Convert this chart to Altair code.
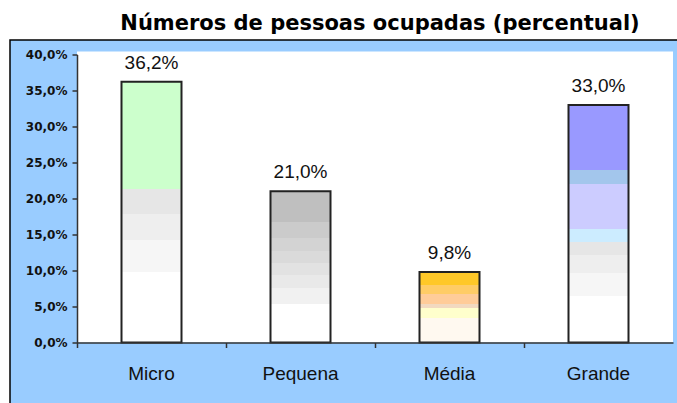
import altair as alt
import pandas as pd

categories = ["Micro", "Pequena", "Média", "Grande"]
values = [36.2, 21.0, 9.8, 33.0]
y_ticks = [0, 5, 10, 15, 20, 25, 30, 35, 40]
title_text = "Números de pessoas ocupadas (percentual)"

# banded "gradient" fills (style), offsets from bar top (0) to bottom (1)
bands = {
    "Micro": [(0.41, "#CCFFCC"), (0.506, "#E6E6E6"), (0.605, "#EEEEEE"), (0.728, "#F6F6F6"), (1.0, "#FFFFFF")],
    "Pequena": [(0.206, "#BFBFBF"), (0.312, "#CBCBCB"), (0.394, "#D3D3D3"), (0.476, "#DADADA"),
                (0.555, "#E2E2E2"), (0.637, "#E9E9E9"), (0.748, "#F1F1F1"), (1.0, "#FFFFFF")],
    "Média": [(0.182, "#FFC828"), (0.31, "#FFCC66"), (0.456, "#FFCC99"), (0.507, "#F2D9C0"),
              (0.658, "#FFFFCC"), (1.0, "#FFF9F0")],
    "Grande": [(0.273, "#9999FF"), (0.332, "#A3C6EC"), (0.524, "#CCCCFF"), (0.577, "#CCECFF"),
               (0.632, "#E6E6E6"), (0.708, "#EEEEEE"), (0.803, "#F6F6F6"), (1.0, "#FFFFFF")],
}


def make_gradient(spec):
    stops = []
    prev = 0.0
    for off, col in spec:
        stops.append(alt.GradientStop(offset=prev, color=col))
        stops.append(alt.GradientStop(offset=off, color=col))
        prev = off
    return alt.LinearGradient(gradient="linear", stops=stops, x1=0, x2=0, y1=0, y2=1)


df = pd.DataFrame({"cat": categories, "v": values})

W, H = 596, 288

x_enc = alt.X(
    "cat:N",
    sort=categories,
    scale=alt.Scale(paddingInner=0, paddingOuter=0),
    axis=alt.Axis(
        title=None, labelAngle=0, bandPosition=0, tickSize=5, labelPadding=17,
        labelFont="Liberation Sans", labelFontSize=19, labelColor="#111",
        domainColor="#333", tickColor="#333", domainWidth=1.5, tickWidth=1.5, zindex=1,
    ),
)
y_enc = alt.Y(
    "v:Q",
    scale=alt.Scale(domain=[0, 40], nice=False, zero=True),
    axis=alt.Axis(
        title=None, values=y_ticks, grid=False, tickSize=5, labelPadding=5,
        labelExpr="replace(format(datum.value, '.1f'), '.', ',') + '%'",
        labelFont="DejaVu Sans", labelFontWeight="bold", labelFontSize=12, labelColor="#111",
        domainColor="#333", tickColor="#333", domainWidth=1.5, tickWidth=1.5, zindex=1,
    ),
)

frame_df = pd.DataFrame({"k": [0]})
frame = alt.Chart(frame_df).mark_rect(fill="#99CCFF", stroke="black", strokeWidth=1.5).encode(
    x=alt.value(-67), x2=alt.value(W + 30), y=alt.value(-14.5), y2=alt.value(H + 100)
)
plotbg = alt.Chart(frame_df).mark_rect(fill="white").encode(
    x=alt.value(0), x2=alt.value(W), y=alt.value(-3), y2=alt.value(H)
)
title = alt.Chart(frame_df).mark_text(
    text=title_text, font="DejaVu Sans", fontSize=21, fontWeight="bold", color="black",
    align="center", baseline="alphabetic",
).encode(x=alt.value(W / 2 + 5), y=alt.value(-24.5))

base = alt.Chart(df)
bar_layers = []
for c in categories:
    bar_layers.append(
        base.transform_filter(alt.datum.cat == c)
        .mark_bar(width=60, fill=make_gradient(bands[c]), stroke="#222", strokeWidth=2)
        .encode(x=x_enc, y=y_enc)
    )

labels = (
    base.transform_calculate(lbl="replace(format(datum.v, '.1f'), '.', ',') + '%'")
    .mark_text(dy=-9, baseline="bottom", font="Liberation Sans", fontSize=19, color="#111")
    .encode(x=x_enc, y=y_enc, text="lbl:N")
)

chart = (
    alt.layer(frame, plotbg, title, *bar_layers, labels)
    .properties(
        width=W,
        height=H,
        autosize="none",
        padding={"left": 77, "top": 54.5, "right": 4, "bottom": 60},
    )
    .configure(background="white")
    .configure_view(stroke=None)
)

chart.save("out.html", embed_options={"renderer": "svg", "actions": False})
